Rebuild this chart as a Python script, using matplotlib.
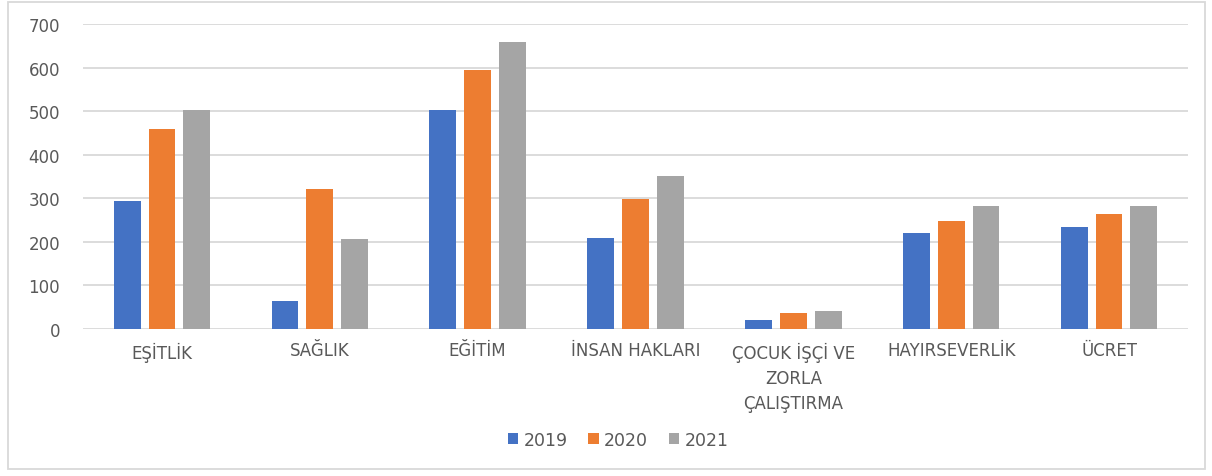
import matplotlib
matplotlib.use("Agg")
import matplotlib.pyplot as plt
from matplotlib.patches import Rectangle
import numpy as np

categories = ["EŞİTLİK", "SAĞLIK", "EĞİTİM", "İNSAN HAKLARI",
              "ÇOCUK İŞÇİ VE\nZORLA\nÇALIŞTIRMA", "HAYIRSEVERLİK", "ÜCRET"]
series_names = ["2019", "2020", "2021"]
v2019 = [293, 64, 502, 210, 21, 220, 234]
v2020 = [458, 322, 594, 298, 36, 249, 264]
v2021 = [502, 206, 658, 351, 41, 283, 283]
colors = ["#4472C4", "#ED7D31", "#A5A5A5"]

plt.rcParams['font.family'] = ['DejaVu Sans']

fig = plt.figure(figsize=(12.12, 4.77), dpi=100)
ax = fig.add_axes([83/1212, 1-330/477, (1188-83)/1212, (330-25)/477])

x = np.arange(len(categories))
w = 0.17
sp = 0.22
for i, (vals, name, c) in enumerate(zip([v2019, v2020, v2021], series_names, colors)):
    ax.bar(x + (i-1)*sp, vals, width=w, color=c, label=name, zorder=3)

ax.set_xlim(-0.5, len(categories)-0.5)
ax.set_ylim(0, 700)
ax.set_yticks(range(0, 701, 100))
ax.grid(axis='y', color='#d9d9d9', linewidth=1.3, zorder=0)
for s in ax.spines.values():
    s.set_visible(False)
ax.tick_params(axis='both', length=0, colors='#595959', labelsize=12)
ax.tick_params(axis='y', pad=16.5)
ax.tick_params(axis='x', pad=9)
ax.set_xticks(x)
ax.set_xticklabels(categories, linespacing=1.5)

handles, labels = ax.get_legend_handles_labels()
fig.legend(handles, labels, loc='center', bbox_to_anchor=(618/1212, 1-441/477),
           ncol=3, frameon=False, fontsize=12.5, handlelength=0.6, handleheight=0.6,
           handletextpad=0.3, columnspacing=1.2, labelcolor='#595959')

fig.patches.append(Rectangle((8/1212, 1-470/477), (1205-8)/1212, (470-3)/477,
                             transform=fig.transFigure, fill=False,
                             edgecolor='#d9d9d9', linewidth=1.3))

fig.savefig("out.png", dpi=100)
